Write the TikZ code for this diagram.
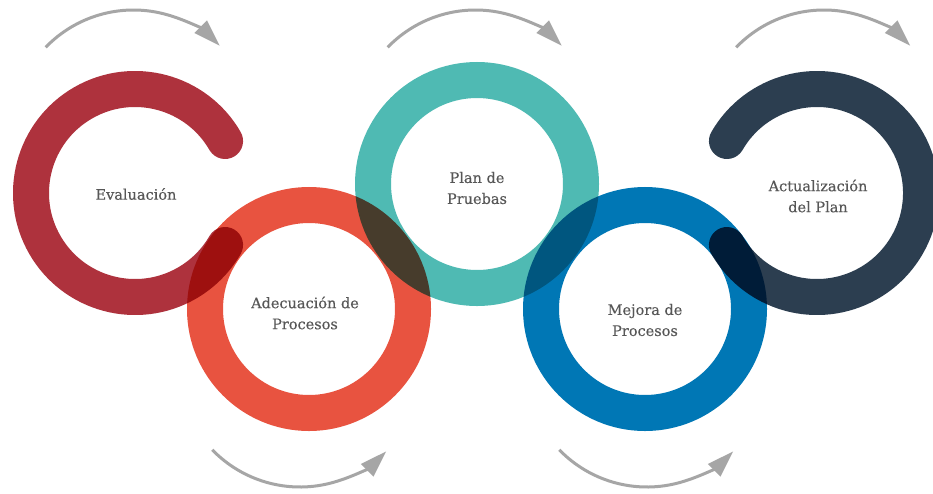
\documentclass[tikz,border=0pt]{standalone}
\usepackage{fontspec}
\setmainfont{DejaVu Serif}[FakeBold=0.3]
\usetikzlibrary{arrows.meta}
\definecolor{cred}{HTML}{AE323D}
\definecolor{corange}{HTML}{E85340}
\definecolor{cteal}{HTML}{4FBAB3}
\definecolor{cblue}{HTML}{0077B5}
\definecolor{cnavy}{HTML}{2C3E50}
\definecolor{carrow}{HTML}{A6A6A6}
\definecolor{ctext}{HTML}{575757}
\begin{document}
\begin{tikzpicture}[x=1pt,y=-1pt,
  ring/.style={line width=36pt},
  openring/.style={line width=36pt, line cap=round},
  lbl/.style={font=\fontsize{14.5}{21}\selectfont, text=ctext, align=center, inner sep=0pt},
  cyc/.style={draw=carrow, line width=3pt, -{Triangle[length=27pt,width=17pt]}}]
\useasboundingbox (0,0) rectangle (933,493);
\fill[white] (0,0) rectangle (933,493);
\clip (0,0) rectangle (933,493);
% ring centres
\coordinate (cEv) at (135,193);
\coordinate (cAd) at (309,309);
\coordinate (cPl) at (477,184);
\coordinate (cMe) at (645,309);
\coordinate (cAc) at (817,193);
\begin{scope}[blend group=multiply]
  \draw[openring, cred] ([shift={(-30:104)}]cEv) arc[start angle=-30, end angle=-330, radius=104];
  \draw[ring, corange] (cAd) circle[radius=104];
  \draw[ring, cteal] (cPl) circle[radius=104];
  \draw[ring, cblue] (cMe) circle[radius=104];
  \draw[openring, cnavy] ([shift={(-150:104)}]cAc) arc[start angle=-150, end angle=150, radius=104];
\end{scope}
% labels
\node[lbl] (ev) at (136,194) {Evaluación};
\node[lbl] (ad) at (305,313) {Adecuación de\\Procesos};
\node[lbl] (pl) at (477,188) {Plan de\\Pruebas};
\node[lbl] (me) at (645,320) {Mejora de\\Procesos};
\node[lbl] (ac) at (818,196) {Actualización\\del Plan};
% cycle arrows
\coordinate (a1) at (133.5,132);
\coordinate (a2) at (475.5,132);
\coordinate (a3) at (824,132);
\coordinate (b1) at (300,365);
\coordinate (b2) at (647,365);
\draw[cyc] ([shift={(-136:122)}]a1) arc[start angle=-136, end angle=-45, radius=122];
\draw[cyc] ([shift={(-136:122)}]a2) arc[start angle=-136, end angle=-45, radius=122];
\draw[cyc] ([shift={(-136:122)}]a3) arc[start angle=-136, end angle=-45, radius=122];
\draw[cyc] ([shift={(136:122)}]b1) arc[start angle=136, end angle=45, radius=122];
\draw[cyc] ([shift={(136:122)}]b2) arc[start angle=136, end angle=45, radius=122];
\end{tikzpicture}
\end{document}
